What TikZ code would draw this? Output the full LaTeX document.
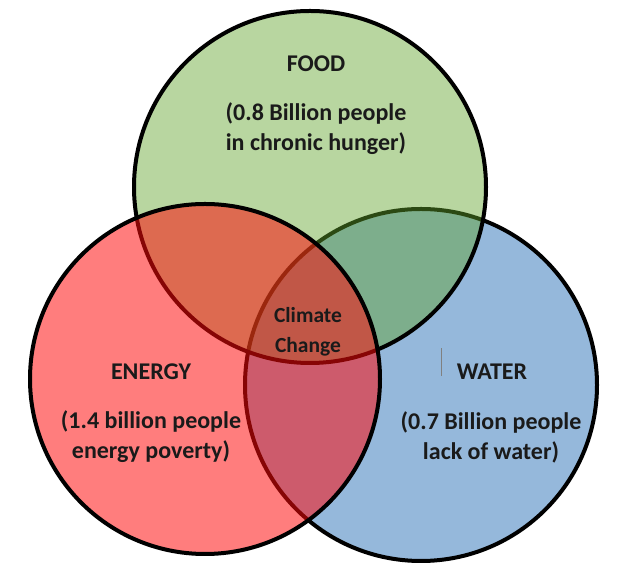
\documentclass[tikz,border=0pt]{standalone}
\usepackage{fontspec}
\setmainfont{Carlito}
\definecolor{waterblue}{RGB}{149,184,219}
\definecolor{foodgreen}{RGB}{97,164,44}
\definecolor{energyred}{RGB}{255,10,10}
\definecolor{inkgrey}{RGB}{26,26,26}
\begin{document}
\begin{tikzpicture}
[x=1pt,y=1pt,
ring/.style={circle,draw=black,line width=4pt,inner sep=0pt},
head/.style={font=\fontsize{24}{30}\selectfont\bfseries,text=inkgrey},
note/.style={font=\fontsize{24}{30}\selectfont\bfseries,text=inkgrey,align=center},
core/.style={font=\fontsize{21.5}{30}\selectfont\bfseries,text=inkgrey,align=center}]
\useasboundingbox (0,0) rectangle (629,585);
\node[ring,fill=waterblue,minimum size=352pt] (water) at (421,200) {};
\node[ring,fill=foodgreen,fill opacity=0.45,minimum size=352pt] (food) at (310,398) {};
\node[ring,fill=energyred,fill opacity=0.53,minimum size=350pt] (energy) at (205,206) {};
\node[head] (foodhead) at (316,521) {FOOD};
\node[note] (foodnote) at (316,456) {(0.8 Billion people\\in chronic hunger)};
\node[core] (nexus) at (308,253) {Climate\\Change};
\node[head] (energyhead) at (151,213) {ENERGY};
\node[note] (energynote) at (151,148) {(1.4 billion people\\energy poverty)};
\node[head] (waterhead) at (492,213) {WATER};
\node[note] (waternote) at (491,148) {(0.7 Billion people\\lack of water)};
\draw[gray,line width=0.8pt] (441,209) -- (441,237);
\end{tikzpicture}
\end{document}
